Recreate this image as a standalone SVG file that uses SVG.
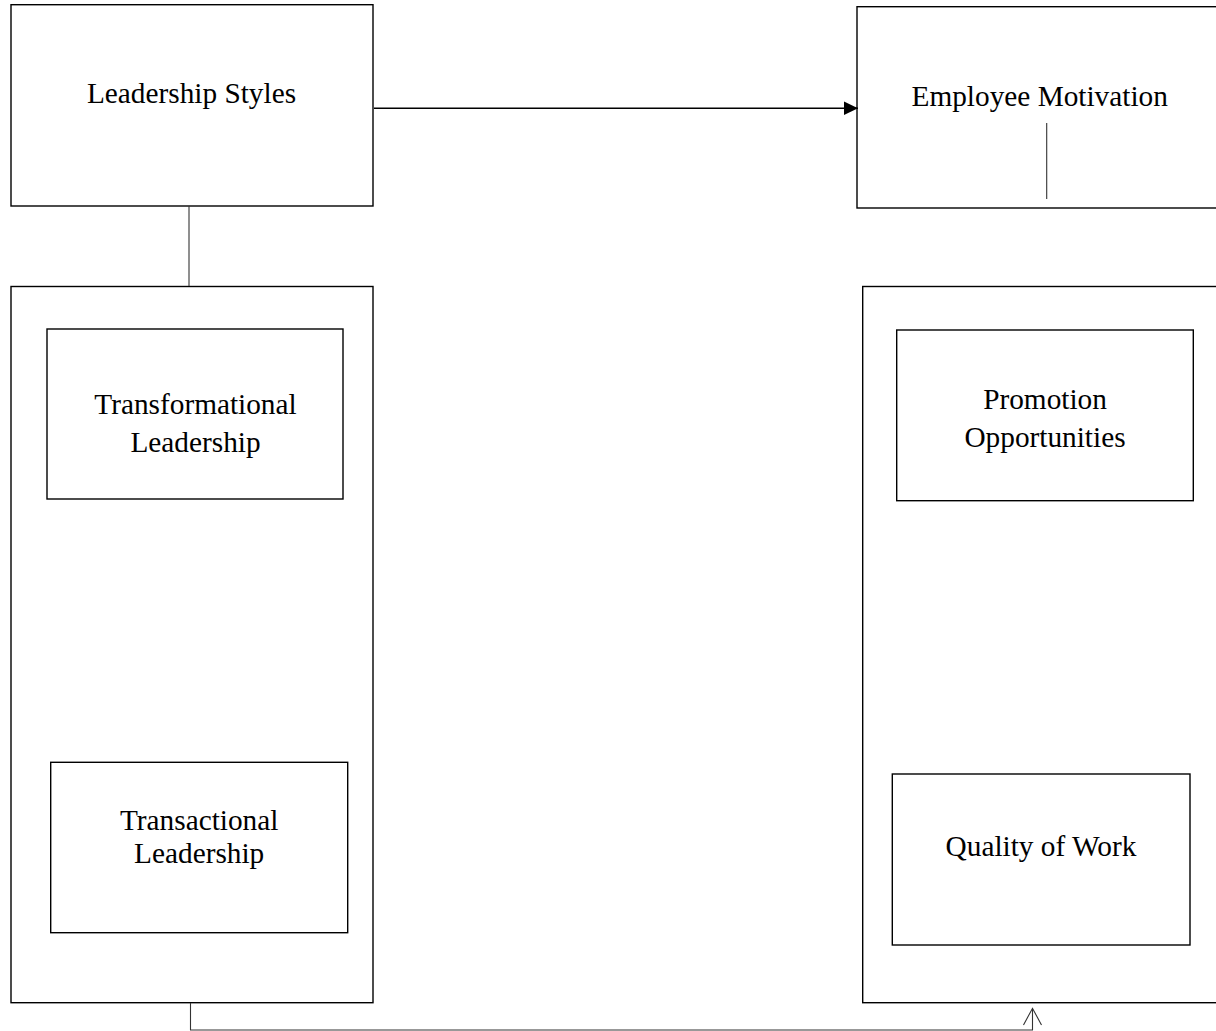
<svg xmlns="http://www.w3.org/2000/svg" width="1216" height="1031" viewBox="0 0 1216 1031">
<defs>
<style>
.box{fill:none;stroke:#000;stroke-width:1.4}
.con{fill:none;stroke:#333;stroke-width:1.1}
.main{fill:none;stroke:#000;stroke-width:1.4}
text{font-family:"Liberation Serif","Times New Roman",serif;font-size:29.3px;fill:#000;text-anchor:middle}
</style>
<marker id="filled" markerWidth="14" markerHeight="14" refX="14" refY="7" orient="auto" markerUnits="userSpaceOnUse">
<path d="M0,0.3 L14,7 L0,13.7 Z" fill="#000"/>
</marker>
</defs>
<rect width="1216" height="1031" fill="#fff"/>
<g id="leadership-styles">
<rect class="box" x="11" y="4.7" width="362" height="201.3"/>
<text x="191.5" y="103.3">Leadership Styles</text>
</g>
<g id="employee-motivation">
<rect class="box" x="857" y="6.7" width="400" height="201.3"/>
<text x="1039.7" y="106">Employee Motivation</text>
</g>
<g id="leadership-group">
<rect class="box" x="11" y="286.5" width="362" height="716.2"/>
</g>
<g id="transformational">
<rect class="box" x="47" y="329" width="296" height="170"/>
<text x="195.5" y="414.3">Transformational</text>
<text x="195.5" y="452.3">Leadership</text>
</g>
<g id="transactional">
<rect class="box" x="50.7" y="762.3" width="297" height="170.4"/>
<text x="199.2" y="830">Transactional</text>
<text x="199.2" y="863.3">Leadership</text>
</g>
<g id="motivation-group">
<rect class="box" x="862.7" y="286.5" width="400" height="716.2"/>
</g>
<g id="promotion">
<rect class="box" x="896.7" y="330" width="296.6" height="170.7"/>
<text x="1045" y="409.3">Promotion</text>
<text x="1045" y="446.7">Opportunities</text>
</g>
<g id="quality">
<rect class="box" x="892.3" y="774" width="297.7" height="171"/>
<text x="1041" y="856">Quality of Work</text>
</g>
<g id="connectors">
<line class="main" x1="374" y1="108.3" x2="858" y2="108.3" marker-end="url(#filled)"/>
<line class="con" x1="189" y1="206" x2="189" y2="286"/>
<line class="con" x1="1046.7" y1="123" x2="1046.7" y2="199"/>
<polyline class="con" points="190.5,1003 190.5,1030 1032.5,1030 1032.5,1008.5"/>
<polyline class="con" points="1023.5,1025 1032.5,1008.3 1041.5,1025"/>
</g>
</svg>
